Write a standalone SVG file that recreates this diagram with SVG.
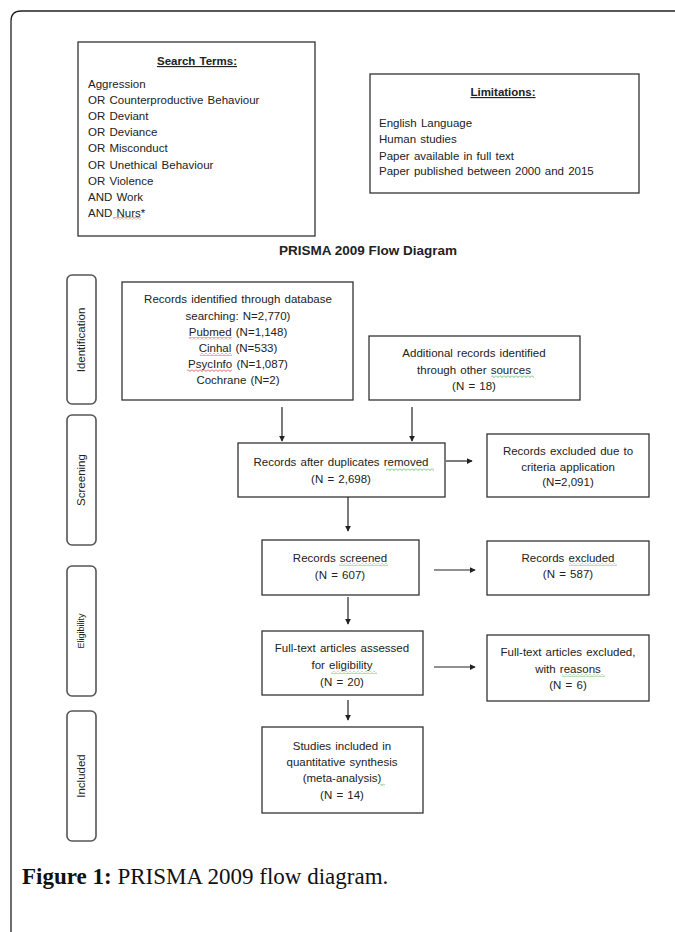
<svg xmlns="http://www.w3.org/2000/svg" width="675" height="932" viewBox="0 0 675 932">
<defs>
<style>
.t{font-family:"Liberation Sans","DejaVu Sans",sans-serif;font-size:11.5px;word-spacing:1px;fill:#222}
.c{text-anchor:middle}
.h{font-weight:bold;text-decoration:underline}
.box{fill:#fff;stroke:#333;stroke-width:1.3}
.side{fill:#fff;stroke:#555;stroke-width:1.6}
.ln{stroke:#222;stroke-width:1.2;fill:none;marker-end:url(#ah)}
.cap{font-family:"Liberation Serif","DejaVu Serif",serif;font-size:23px;fill:#111}
</style>
<marker id="ah" viewBox="0 0 8 8" refX="7" refY="4" markerWidth="6" markerHeight="6" markerUnits="userSpaceOnUse" orient="auto">
<path d="M0,0 L8,4 L0,8 z" fill="#222"/>
</marker>
<pattern id="rw" patternUnits="userSpaceOnUse" width="4" height="3">
<path d="M0,0.5 L2,2.5 L4,0.5" stroke="#e03030" stroke-width="0.8" fill="none"/>
</pattern>
<pattern id="gw" patternUnits="userSpaceOnUse" width="4" height="3">
<path d="M0,0.5 L2,2.5 L4,0.5" stroke="#4caf50" stroke-width="0.8" fill="none"/>
</pattern>
</defs>
<rect width="675" height="932" fill="#fff"/>
<path d="M11,932 V21 Q11,11 21,11 H675" fill="none" stroke="#222" stroke-width="1.3"/>

<g id="search-terms">
<rect class="box" x="78" y="42" width="237" height="194"/>
<text class="t c h" x="197" y="65">Search Terms:</text>
<text class="t" x="88" y="88">Aggression</text>
<text class="t" x="88" y="104">OR Counterproductive Behaviour</text>
<text class="t" x="88" y="120">OR Deviant</text>
<text class="t" x="88" y="136">OR Deviance</text>
<text class="t" x="88" y="152">OR Misconduct</text>
<text class="t" x="88" y="169">OR Unethical Behaviour</text>
<text class="t" x="88" y="185">OR Violence</text>
<text class="t" x="88" y="201">AND Work</text>
<text class="t" x="88" y="217">AND Nurs*</text>
<rect x="113" y="217" width="28" height="3" fill="url(#rw)"/>
</g>

<g id="limitations">
<rect class="box" x="370" y="74" width="269" height="119"/>
<text class="t c h" x="503" y="96">Limitations:</text>
<text class="t" x="379" y="127">English Language</text>
<text class="t" x="379" y="143">Human studies</text>
<text class="t" x="379" y="160">Paper available in full text</text>
<text class="t" x="379" y="175">Paper published between 2000 and 2015</text>
</g>

<text id="title" x="368" y="255" font-family="'Liberation Sans','DejaVu Sans',sans-serif" font-size="13.5" font-weight="bold" fill="#222" text-anchor="middle">PRISMA 2009 Flow Diagram</text>

<g id="side-identification">
<rect class="side" x="67" y="275" width="29" height="129" rx="5"/>
<text class="t c" transform="translate(85,340) rotate(-90)">Identification</text>
</g>
<g id="side-screening">
<rect class="side" x="67" y="415" width="29" height="130" rx="5"/>
<text class="t c" transform="translate(85,480) rotate(-90)">Screening</text>
</g>
<g id="side-eligibility">
<rect class="side" x="67" y="566" width="29" height="130" rx="5"/>
<text class="t c" transform="translate(84,631) rotate(-90)" style="font-size:9px">Eligibility</text>
</g>
<g id="side-included">
<rect class="side" x="67" y="711" width="29" height="130" rx="5"/>
<text class="t c" transform="translate(85,776) rotate(-90)">Included</text>
</g>

<g id="identified">
<rect class="box" x="122" y="282" width="231" height="118"/>
<text class="t c" x="238" y="303">Records identified through database</text>
<text class="t c" x="238" y="320">searching: N=2,770)</text>
<text class="t c" x="238" y="336">Pubmed (N=1,148)</text>
<text class="t c" x="238" y="352">Cinhal (N=533)</text>
<text class="t c" x="238" y="368">PsycInfo (N=1,087)</text>
<text class="t c" x="238" y="384">Cochrane (N=2)</text>
<rect x="189" y="337" width="43" height="3" fill="url(#rw)"/>
<rect x="200" y="353" width="32" height="3" fill="url(#rw)"/>
<rect x="187" y="369" width="45" height="3" fill="url(#rw)"/>
</g>

<g id="additional">
<rect class="box" x="369" y="336" width="211" height="64"/>
<text class="t c" x="474" y="357">Additional records identified</text>
<text class="t c" x="474" y="374">through other sources</text>
<text class="t c" x="474" y="390">(N = 18)</text>
<rect x="491" y="375" width="43" height="3" fill="url(#gw)"/>
</g>

<g id="duplicates">
<rect class="box" x="238" y="443" width="207" height="54"/>
<text class="t c" x="341" y="466">Records after duplicates removed</text>
<text class="t c" x="341" y="483">(N = 2,698)</text>
<rect x="386" y="468" width="48" height="3" fill="url(#gw)"/>
</g>

<g id="excluded-criteria">
<rect class="box" x="487" y="434" width="162" height="63"/>
<text class="t c" x="568" y="455">Records excluded due to</text>
<text class="t c" x="568" y="471">criteria application</text>
<text class="t c" x="568" y="486">(N=2,091)</text>
</g>

<g id="screened">
<rect class="box" x="262" y="540" width="157" height="55"/>
<text class="t c" x="340" y="562">Records screened</text>
<text class="t c" x="340" y="579">(N = 607)</text>
<rect x="339" y="563" width="49" height="3" fill="url(#gw)"/>
</g>

<g id="excluded">
<rect class="box" x="487" y="541" width="162" height="54"/>
<text class="t c" x="568" y="562">Records excluded</text>
<text class="t c" x="568" y="578">(N = 587)</text>
<rect x="569" y="563" width="48" height="3" fill="url(#gw)"/>
</g>

<g id="fulltext">
<rect class="box" x="262" y="631" width="161" height="64"/>
<text class="t c" x="342" y="652">Full-text articles assessed</text>
<text class="t c" x="342" y="669">for eligibility</text>
<text class="t c" x="342" y="686">(N = 20)</text>
<rect x="331" y="671" width="46" height="3" fill="url(#gw)"/>
</g>

<g id="fulltext-excluded">
<rect class="box" x="487" y="635" width="162" height="66"/>
<text class="t c" x="568" y="656">Full-text articles excluded,</text>
<text class="t c" x="568" y="673">with reasons</text>
<text class="t c" x="568" y="689">(N = 6)</text>
<rect x="562" y="674" width="43" height="3" fill="url(#gw)"/>
</g>

<g id="included">
<rect class="box" x="262" y="727" width="161" height="86"/>
<text class="t c" x="342" y="750">Studies included in</text>
<text class="t c" x="342" y="766">quantitative synthesis</text>
<text class="t c" x="342" y="782">(meta-analysis)</text>
<text class="t c" x="342" y="799">(N = 14)</text>
<rect x="380" y="784" width="5" height="3" fill="url(#gw)"/>
</g>

<g id="connectors">
<line class="ln" x1="282" y1="407" x2="282" y2="441"/>
<line class="ln" x1="412" y1="407" x2="412" y2="441"/>
<line class="ln" x1="446" y1="461" x2="472" y2="461"/>
<line class="ln" x1="348" y1="497" x2="348" y2="531"/>
<line class="ln" x1="434" y1="570" x2="475" y2="570"/>
<line class="ln" x1="348" y1="597" x2="348" y2="624"/>
<line class="ln" x1="434" y1="667" x2="475" y2="667"/>
<line class="ln" x1="348" y1="700" x2="348" y2="720"/>
</g>

<text id="caption" class="cap" x="22" y="884"><tspan font-weight="bold">Figure 1:</tspan> PRISMA 2009 flow diagram.</text>
</svg>
